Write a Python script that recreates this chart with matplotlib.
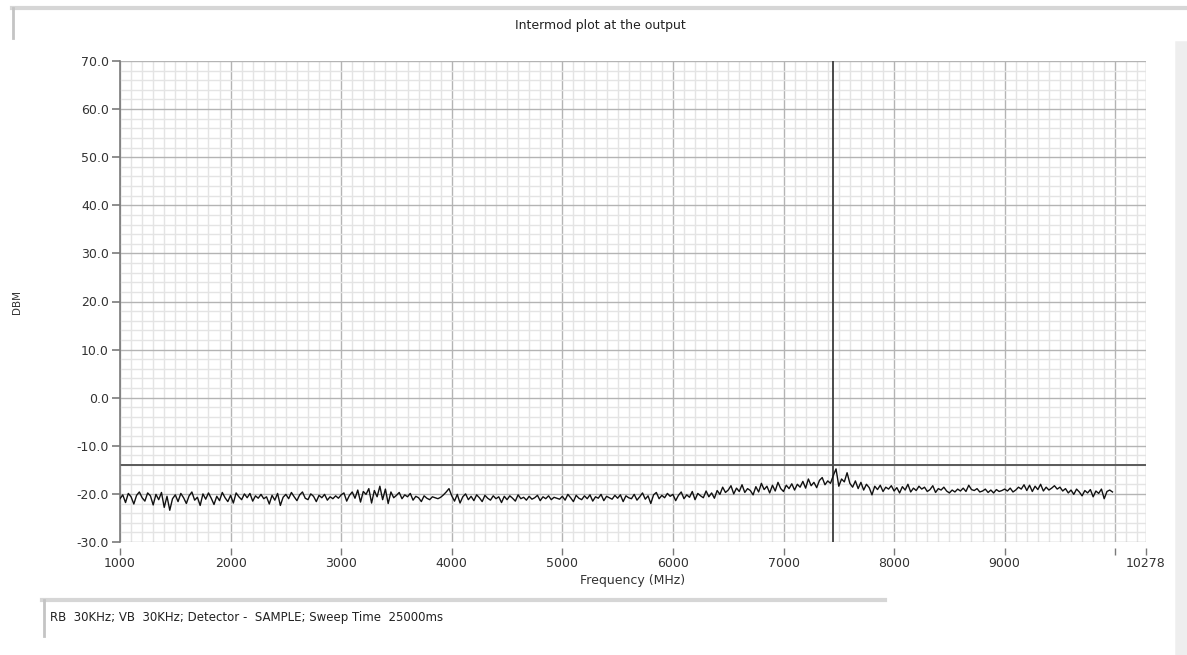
import numpy as np
import matplotlib
matplotlib.use('Agg')
import matplotlib.pyplot as plt
from matplotlib.ticker import MultipleLocator, FixedLocator
from matplotlib.lines import Line2D

title = "Intermod plot at the output"
caption = "RB  30KHz; VB  30KHz; Detector -  SAMPLE; Sweep Time  25000ms"
x_ticks = [1000, 2000, 3000, 4000, 5000, 6000, 7000, 8000, 9000, 10000, 10278]
x_tick_labels = ["1000", "2000", "3000", "4000", "5000", "6000", "7000", "8000", "9000", "", "10278"]
y_ticks = [-30, -20, -10, 0, 10, 20, 30, 40, 50, 60, 70]
marker_freq = 7450   # vertical marker line (MHz)
threshold = -14.0    # horizontal limit line (dBm)

# trace, 25 MHz steps from 1000 MHz
start_freq = 1000
step_freq = 25
level = np.array([
    -21.0, -20.2, -21.8, -19.9, -20.6, -22.1, -20.3, -19.6, -20.8, -21.5, -19.8, -20.4, -22.3, -20.1, -21.2, -19.7, -22.8, -20.5, -23.4, -21.0,
    -20.2, -21.6, -19.9, -20.8, -22.0, -20.4, -19.6, -21.3, -20.7, -22.4, -20.0, -21.1, -19.8, -20.9, -22.2, -20.5, -21.4, -19.7, -20.8, -21.6,
    -20.3, -21.9, -19.8, -20.6, -21.2, -20.0, -20.8, -19.9, -21.5, -20.4, -20.9, -20.1, -21.0, -20.6, -22.1, -20.3, -21.3, -19.9, -22.4, -20.7,
    -20.1, -21.0, -19.7, -20.6, -21.4, -20.2, -19.6, -20.9, -21.2, -20.0, -20.5, -21.6, -20.3, -20.8, -20.1, -21.3, -20.6, -21.0, -20.4, -20.9,
    -20.2, -19.8, -21.5, -20.3, -19.6, -20.9, -19.2, -21.7, -19.5, -20.1, -18.9, -21.9, -19.3, -20.6, -18.4, -21.2, -19.0, -22.0, -19.6, -20.8,
    -20.3, -19.7, -21.0, -20.2, -20.6, -19.9, -21.3, -20.5, -20.8, -21.6, -20.4, -20.9, -21.2, -20.6, -20.8, -21.0, -20.7, -20.2, -19.6, -18.9,
    -20.4, -21.5, -20.1, -21.9, -20.6, -20.0, -21.2, -20.5, -21.4, -20.2, -20.8, -21.6, -20.3, -20.9, -21.3, -20.4, -21.0, -20.6, -21.8, -20.5,
    -21.2, -20.4, -20.9, -21.5, -20.2, -21.0, -20.7, -21.3, -20.5, -21.1, -20.8, -20.3, -21.4, -20.6, -21.0, -20.4, -21.2, -20.7, -20.9, -21.1,
    -20.5, -21.3, -20.1, -20.8, -21.6, -20.3, -20.9, -21.2, -20.4, -21.0, -20.2, -21.5, -20.6, -20.9, -20.1, -21.4, -20.5, -20.8, -21.1, -20.3,
    -20.9, -20.2, -21.6, -20.4, -20.8, -21.0, -20.1, -21.3, -20.6, -19.8, -21.1, -20.4, -22.0, -20.2, -19.7, -21.0, -20.3, -20.8, -19.9, -20.5,
    -20.1, -21.4, -20.3, -19.6, -21.0, -20.2, -20.7, -19.5, -21.2, -19.9, -20.4, -20.8, -19.4, -20.6, -19.8, -20.9, -19.3, -20.1, -18.6, -19.7,
    -19.2, -18.3, -20.0, -18.8, -19.5, -18.1, -19.7, -18.9, -19.3, -20.2, -18.5, -19.6, -17.8, -19.1, -18.4, -19.8, -18.2, -19.4, -17.6, -18.9,
    -19.5, -18.2, -18.9, -17.9, -19.2, -18.0, -18.6, -17.4, -18.8, -16.9, -18.3, -17.6, -18.7, -17.2, -16.6, -18.1, -17.3, -17.8, -16.2, -14.8,
    -18.4, -16.9, -17.5, -15.6, -17.8, -18.6, -17.3, -18.9, -17.6, -19.2, -18.0, -18.7, -20.2, -18.4, -19.1, -18.2, -19.5, -18.6, -19.0, -18.3,
    -19.4, -18.7, -19.8, -18.5, -19.2, -18.0, -19.6, -18.8, -19.3, -18.4, -19.0, -18.6, -19.5, -19.1, -18.3, -19.7, -18.9, -19.2, -18.6, -19.4,
    -19.8, -19.2, -19.6, -19.0, -19.4, -18.8, -19.5, -18.2, -19.1, -19.3, -18.9, -19.6, -19.4, -19.0, -19.7, -19.2, -19.8, -19.1, -19.5, -19.3,
    -19.0, -19.4, -18.8, -19.6, -19.2, -18.6, -19.0, -18.1, -19.3, -18.2, -19.5, -18.4, -19.1, -18.0, -19.4, -18.6, -19.2, -18.8, -18.3, -19.0,
    -18.6, -19.4, -18.9, -19.8, -19.2, -20.1, -19.0, -19.6, -20.4, -19.3, -19.8, -19.1, -20.6, -19.4, -19.9, -19.0, -21.0, -19.5, -19.2, -19.6,
])
freq = start_freq + step_freq * np.arange(level.size)

# %%

W, H = 1187, 655
fig = plt.figure(figsize=(W / 100, H / 100), dpi=100)
ax = fig.add_axes([120 / W, 1 - 542 / H, (1146 - 120) / W, (542 - 61) / H])

ax.set_xlim(1000, 10278)
ax.set_ylim(-30, 70)

ax.xaxis.set_major_locator(FixedLocator(x_ticks))
ax.set_xticklabels(x_tick_labels)
ax.yaxis.set_major_locator(FixedLocator(y_ticks))
ax.set_yticklabels(["%.1f" % v for v in y_ticks])
ax.xaxis.set_minor_locator(MultipleLocator(100))
ax.yaxis.set_minor_locator(MultipleLocator(2))

ax.grid(which='minor', color='#e4e4e4', lw=1.0)
ax.grid(which='major', color='#b4b4b4', lw=1.0)
ax.set_axisbelow(True)

for s in ['top', 'right']:
    ax.spines[s].set_visible(False)
ax.spines['left'].set_color('#7a7a7a')
ax.spines['left'].set_linewidth(1.2)
ax.spines['bottom'].set_visible(False)
ax.spines['bottom'].set_position(('outward', 4))

ax.tick_params(which='minor', length=0)
ax.tick_params(axis='y', which='major', length=6, width=1.2, color='#7a7a7a',
               labelsize=9, labelcolor='#333333', pad=2)
ax.tick_params(axis='x', which='major', length=5, width=1.0, color='#7a7a7a',
               labelsize=9, labelcolor='#333333', pad=2)

ax.axhline(threshold, color='#5a5a5a', lw=1.4, zorder=2)
ax.axvline(marker_freq, color='#4a4a4a', lw=1.4, zorder=2)
ax.plot(freq, level, color='#111111', lw=1.0, zorder=3)

ax.set_xlabel("Frequency (MHz)", fontsize=9, color='#333333', labelpad=3)
ax.set_ylabel("DBM", fontsize=7.5, color='#333333')
ax.yaxis.set_label_coords(-98 / (1146 - 120), 0.5)

# panel frames of the original window
def px_line(x0, y0, x1, y1, color, lw):
    fig.add_artist(Line2D([x0 / W, x1 / W], [1 - y0 / H, 1 - y1 / H],
                          color=color, lw=lw, transform=fig.transFigure))

px_line(12, 8, 1187, 8, '#d6d6d6', 3)
px_line(13, 8, 13, 38, '#c4c4c4', 2)
px_line(42, 600, 885, 600, '#d6d6d6', 3)
px_line(44, 600, 44, 636, '#c4c4c4', 2)
px_line(1181, 47, 1181, 655, '#eeeeee', 9)

fig.text(600 / W, 1 - 25 / H, title, ha='center', va='center', fontsize=9, color='#222222')
fig.text(50 / W, 1 - 617 / H, caption, ha='left', va='center', fontsize=8.5, color='#222222')

fig.savefig("out.png", dpi=100)
